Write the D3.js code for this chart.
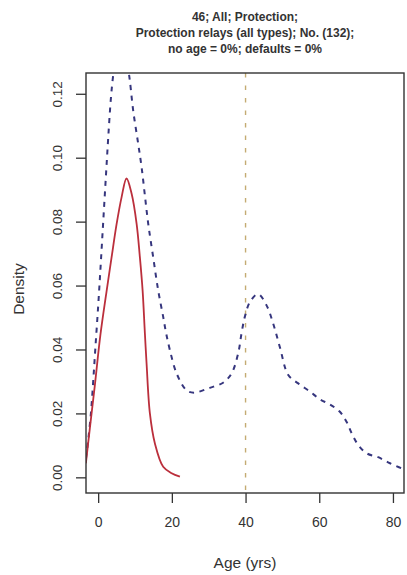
<!DOCTYPE html>
<html>
<head>
<meta charset="utf-8">
<script src="https://cdn.jsdelivr.net/npm/d3@7/dist/d3.min.js"></script>
<style>
  html, body { margin: 0; padding: 0; background: #fff; }
  svg { display: block; }
  text { font-family: "Liberation Sans", Arial, Helvetica, sans-serif; fill: #333; }
</style>
</head>
<body>
<svg id="chart" width="407" height="575"></svg>
<script>
// Title lines
const titleLines = [
  "46; All; Protection;",
  "Protection relays (all types); No. (132);",
  "no age = 0%; defaults = 0%"
];

// Axis ticks
const xTicks = [0, 20, 40, 60, 80];
const yTicks = [0.00, 0.02, 0.04, 0.06, 0.08, 0.10, 0.12];

// Reference age (vertical dashed line)
const refAge = [40];

// Empirical density (blue dashed)
const ageAll = [-3.3, -2.7, -1.96, -1.36, -0.76, 0.0, 0.6, 1.14, 1.68, 2.23, 2.77, 3.45, 4.07,
  5.0, 6.2, 7.3, 8.42, 9.5, 10.86, 11.78, 12.68, 13.58, 14.93, 16.29, 17.65, 18.38, 19.47,
  21.29, 24.0, 26.0, 30.3, 33.9, 36.2, 38.0, 38.9, 39.8, 41.2, 43.4, 45.7, 47.5, 49.3, 51.6,
  54.3, 57.5, 60.2, 62.9, 65.6, 67.4, 68.8, 70.6, 72.9, 76.0, 79.2, 82.4, 83.0];
const densAll = [0.0060, 0.0117, 0.0201, 0.0298, 0.0404, 0.0535, 0.0648, 0.0754, 0.0860, 0.0967,
  0.1070, 0.1185, 0.1257, 0.1330, 0.1360, 0.1330, 0.1257, 0.1148, 0.1044, 0.0971, 0.0882,
  0.0794, 0.0689, 0.0585, 0.0502, 0.0455, 0.0398, 0.0325, 0.0272, 0.0265, 0.0280, 0.0296,
  0.0325, 0.0388, 0.0450, 0.0502, 0.0549, 0.0573, 0.0538, 0.0481, 0.0408, 0.0320, 0.0294,
  0.0268, 0.0244, 0.0228, 0.0205, 0.0174, 0.0138, 0.0101, 0.0075, 0.0063, 0.0044, 0.0028, 0.0026];

// Fitted density (red solid)
const ageFit = [-3.34, -2.25, -0.9, 0.6, 2.28, 3.64, 5.0, 6.35, 7.7, 9.07, 10.43, 11.32, 12.06,
  12.68, 13.14, 14.04, 15.4, 17.65, 19.93, 22.18];
const densFit = [0.0044, 0.0154, 0.0288, 0.0445, 0.0582, 0.0688, 0.0792, 0.0876, 0.0935, 0.0888,
  0.0794, 0.0689, 0.0585, 0.0451, 0.0356, 0.0200, 0.0106, 0.0033, 0.0013, 0.0002];

const svg = d3.select("#chart");
const plot = { left: 86, right: 404, top: 73, bottom: 493 };

const x = d3.scaleLinear().domain([-3.3, 83.0]).range([plot.left, plot.right]);
const y = d3.scaleLinear().domain([-0.0049, 0.1265]).range([plot.bottom, plot.top]);

svg.append("defs").append("clipPath").attr("id", "plotClip")
  .append("rect")
  .attr("x", plot.left).attr("y", plot.top)
  .attr("width", plot.right - plot.left).attr("height", plot.bottom - plot.top);

// Title
const title = svg.append("g").attr("class", "title");
titleLines.forEach((t, i) => {
  title.append("text")
    .attr("x", (plot.left + plot.right) / 2)
    .attr("y", 21 + i * 15.8)
    .attr("text-anchor", "middle")
    .style("font-size", "12px")
    .style("font-weight", "bold")
    .text(t);
});

const layer = svg.append("g").attr("clip-path", "url(#plotClip)");

// Vertical reference line
layer.selectAll("line.ref").data(refAge).enter().append("line")
  .attr("class", "ref")
  .attr("x1", d => x(d)).attr("x2", d => x(d))
  .attr("y1", plot.top).attr("y2", plot.bottom)
  .attr("stroke", "#c4ab72").attr("stroke-width", 1.4)
  .attr("stroke-dasharray", "4.5,8");

const line = d3.line()
  .x(d => x(d[0])).y(d => y(d[1]))
  .curve(d3.curveCatmullRom.alpha(0.5));

// Empirical density
layer.append("path")
  .datum(d3.zip(ageAll, densAll))
  .attr("d", line)
  .attr("fill", "none")
  .attr("stroke", "#36367e")
  .attr("stroke-width", 2)
  .attr("stroke-dasharray", "5,5.5");

// Fitted density
layer.append("path")
  .datum(d3.zip(ageFit, densFit))
  .attr("d", line)
  .attr("fill", "none")
  .attr("stroke", "#bb2f3c")
  .attr("stroke-width", 1.8);

// Axes
const xAxis = d3.axisBottom(x).tickValues(xTicks).tickSize(10).tickPadding(14).tickFormat(d3.format("d"));
const gx = svg.append("g").attr("transform", `translate(0,${plot.bottom})`).call(xAxis);
gx.select(".domain").remove();
gx.selectAll(".tick line").attr("stroke", "#333").attr("stroke-width", 1.3);
gx.selectAll(".tick text").style("font-size", "14px").attr("fill", "#333")
  .style("font-family", "'Liberation Sans', Arial, sans-serif");

const yAxis = d3.axisLeft(y).tickValues(yTicks).tickSize(10).tickFormat(d3.format(".2f"));
const gy = svg.append("g").attr("transform", `translate(${plot.left},0)`).call(yAxis);
gy.select(".domain").remove();
gy.selectAll(".tick line").attr("stroke", "#333").attr("stroke-width", 1.3);
gy.selectAll(".tick text")
  .attr("x", 0).attr("dy", null)
  .attr("transform", "translate(-24,0) rotate(-90)")
  .attr("text-anchor", "middle")
  .attr("fill", "#333")
  .style("font-size", "13.5px")
  .style("font-family", "'Liberation Sans', Arial, sans-serif");

// Plot frame
svg.append("rect")
  .attr("x", plot.left).attr("y", plot.top)
  .attr("width", plot.right - plot.left).attr("height", plot.bottom - plot.top)
  .attr("fill", "none").attr("stroke", "#333").attr("stroke-width", 1.4);

// Axis labels
svg.append("text")
  .attr("x", (plot.left + plot.right) / 2).attr("y", 568)
  .attr("text-anchor", "middle")
  .style("font-size", "15.5px")
  .text("Age (yrs)");

svg.append("text")
  .attr("transform", `translate(24,${(plot.top + plot.bottom) / 2 + 6}) rotate(-90)`)
  .attr("text-anchor", "middle")
  .style("font-size", "15.5px")
  .text("Density");
</script>
</body>
</html>
